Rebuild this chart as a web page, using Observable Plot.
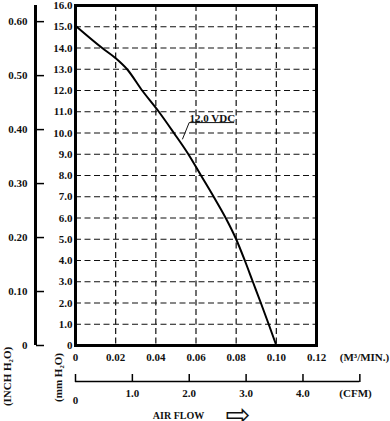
<!DOCTYPE html>
<html>
<head>
<meta charset="utf-8">
<script src="https://cdn.jsdelivr.net/npm/d3@7"></script>
<script src="https://cdn.jsdelivr.net/npm/@observablehq/plot@0.6"></script>
<style>
  html, body { margin: 0; padding: 0; background: #fff; }
  #chart svg { display: block; }
</style>
</head>
<body>
<div id="chart"></div>
<script>
// Curve data: air flow (m³/min) vs static pressure (mm H2O)
const flow = [0, 0.0133, 0.02, 0.0257, 0.0332, 0.0415, 0.0490, 0.0562, 0.0625, 0.0688, 0.0748, 0.0800, 0.0843, 0.0883, 0.0923, 0.0962, 0.1000];
const pressure = [15.05, 14.0, 13.52, 13.0, 12.0, 11.0, 10.0, 9.0, 8.0, 7.0, 6.0, 5.0, 4.0, 3.0, 2.0, 1.0, 0];

// Axis ticks
const flowTicks = [0, 0.02, 0.04, 0.06, 0.08, 0.10, 0.12];
const mmTicks = [0, 1, 2, 3, 4, 5, 6, 7, 8, 9, 10, 11, 12, 13, 14, 15, 16];
const inchTicks = [0, 0.10, 0.20, 0.30, 0.40, 0.50, 0.60];
const cfmTicks = [0, 1.0, 2.0, 3.0, 4.0, 5.0];
const cfmLabels = [1.0, 2.0, 3.0, 4.0];

// Unit conversions
const MM_PER_INCH = 25.4;
const M3MIN_PER_CFM = 0.0283168;

// Annotation
const curveLabel = ["12.0 VDC"];
const labelPos = [{x: 0.0681, y: 10.68}];
const leaderX = [0.0533, 0.0566, 0.0788];
const leaderY = [9.72, 10.49, 10.49];

const data = flow.map((f, i) => ({flow: f, p: pressure[i]}));
const leader = leaderX.map((x, i) => ({x, y: leaderY[i]}));

const FONT = "'Liberation Serif', 'DejaVu Serif', serif";
const mid = {textAnchor: "middle", lineAnchor: "middle", fontWeight: "bold"};

const plot = Plot.plot({
  width: 390,
  height: 421,
  marginLeft: 75,
  marginRight: 74,
  marginTop: 5,
  marginBottom: 76,
  style: {fontFamily: FONT, fontSize: "11px", fontWeight: "bold", background: "#fff", color: "#111", overflow: "visible"},
  x: {domain: [0, 0.12], axis: null},
  y: {domain: [0, 16], axis: null},
  marks: [
    // grid
    Plot.gridX([0.02, 0.04, 0.06, 0.08, 0.10], {stroke: "#111", strokeOpacity: 1, strokeWidth: 1.2, strokeDasharray: "6,3.5"}),
    Plot.gridY(mmTicks.filter(d => d > 0 && d < 16), {stroke: "#111", strokeOpacity: 1, strokeWidth: 1.2, strokeDasharray: "6,3.5"}),
    // curve
    Plot.line(data, {x: "flow", y: "p", stroke: "#000", strokeWidth: 2, curve: "monotone-x"}),
    // annotation
    Plot.line(leader, {x: "x", y: "y", stroke: "#111", strokeWidth: 1}),
    Plot.text(curveLabel, {x: () => labelPos[0].x, y: () => labelPos[0].y, text: d => d, fontSize: 11, fontWeight: "bold"}),
    // frame
    Plot.frame({stroke: "#000", strokeWidth: 3}),
    // main mm axis labels
    Plot.axisY(mmTicks, {anchor: "left", tickSize: 0, tickPadding: 3, label: null,
      tickFormat: d => d === 0 ? "0" : d.toFixed(1), fontWeight: "bold"}),
    // main flow axis labels
    Plot.axisX(flowTicks, {anchor: "bottom", tickSize: 0, tickPadding: 8, label: null,
      tickFormat: d => d === 0 ? "0" : d.toFixed(2), fontWeight: "bold"}),
    // inch axis: spine, ticks, labels
    Plot.ruleX([0], {y1: 0, y2: 16, dx: -40, stroke: "#000", strokeWidth: 3}),
    Plot.axisY(inchTicks.map(d => d * MM_PER_INCH), {anchor: "right", dx: -281, tickSize: 8, fill: "none", stroke: "#000", strokeWidth: 1.5, label: null}),
    Plot.axisY(inchTicks.map(d => d * MM_PER_INCH), {anchor: "left", dx: -45, tickSize: 0, tickPadding: 3, label: null,
      tickFormat: (d, i) => inchTicks[i] === 0 ? "0" : inchTicks[i].toFixed(2), fontWeight: "bold"}),
    // CFM axis: line, ticks, labels
    Plot.ruleY([0], {x1: 0, x2: 5 * M3MIN_PER_CFM, dy: 36, stroke: "#000", strokeWidth: 1.5}),
    Plot.axisX(cfmTicks.map(d => d * M3MIN_PER_CFM), {anchor: "top", dy: 376, tickSize: 8, fill: "none", stroke: "#000", strokeWidth: 1.5, label: null}),
    Plot.axisX(cfmLabels.map(d => d * M3MIN_PER_CFM), {anchor: "bottom", dy: 36, tickSize: 0, tickPadding: 8, label: null,
      tickFormat: (d, i) => cfmLabels[i].toFixed(1), fontWeight: "bold"}),
    Plot.text(["0"], {frameAnchor: "bottom-left", dy: 55, ...mid}),
    // unit labels
    Plot.text(["(M³/MIN.)"], {frameAnchor: "bottom-right", dx: 48, dy: 12, ...mid}),
    Plot.text(["(CFM)"], {frameAnchor: "bottom-right", dx: 39, dy: 48, ...mid}),
    Plot.text(["(INCH H₂O)"], {frameAnchor: "bottom-left", dx: -68, dy: 31, rotate: -90, ...mid}),
    Plot.text(["(mm H₂O)"], {frameAnchor: "bottom-left", dx: -17, dy: 32, rotate: -90, ...mid}),
    Plot.text(["AIR FLOW"], {frameAnchor: "bottom-left", dx: 103, dy: 70, fontSize: 10, ...mid}),
    Plot.text(["⇨"], {frameAnchor: "bottom-left", dx: 162.5, dy: 70, fontSize: 30, fontFamily: "DejaVu Sans", textAnchor: "middle", lineAnchor: "middle", fontWeight: "normal"})
  ]
});
document.getElementById("chart").appendChild(plot);
</script>
</body>
</html>
